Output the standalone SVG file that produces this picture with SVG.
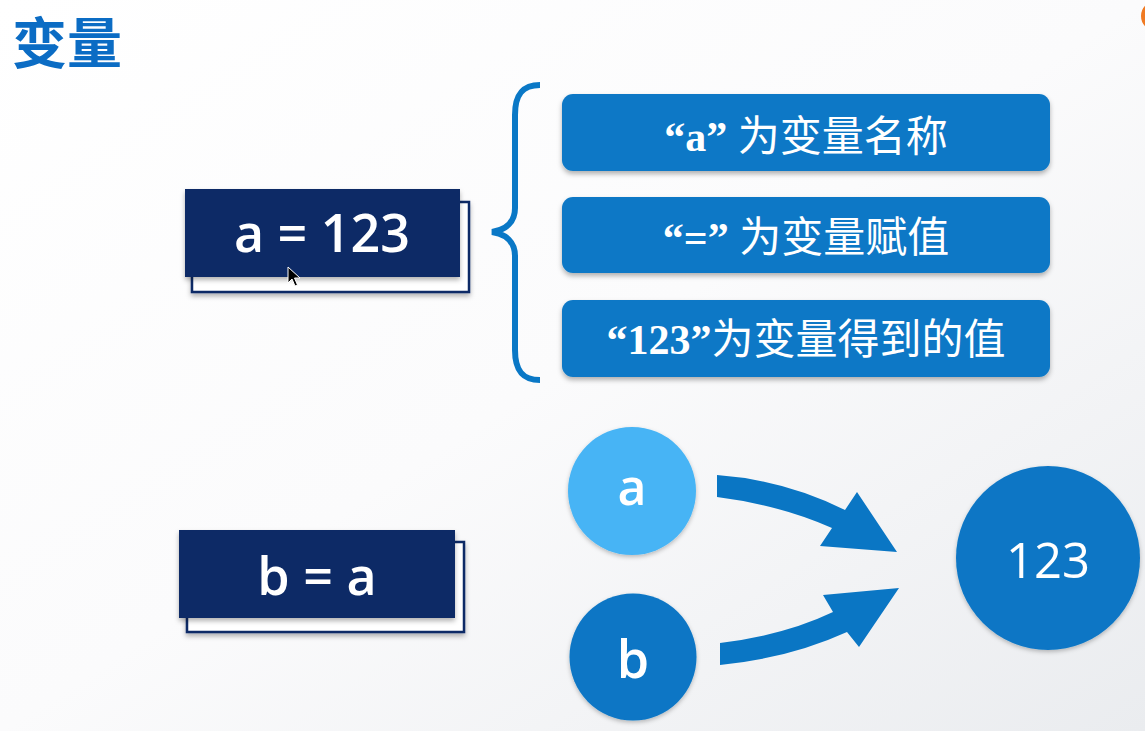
<svg xmlns="http://www.w3.org/2000/svg" width="1145" height="731" viewBox="0 0 1145 731">
<defs>
<linearGradient id="bg" x1="0" y1="0" x2="1" y2="1">
<stop offset="0" stop-color="#ffffff"/>
<stop offset="0.5" stop-color="#fbfbfc"/>
<stop offset="1" stop-color="#eaecef"/>
</linearGradient>
<filter id="sh" x="-10%" y="-10%" width="120%" height="130%">
<feDropShadow dx="0" dy="3" stdDeviation="2.5" flood-color="#000" flood-opacity="0.3"/>
</filter>
<filter id="shc" x="-15%" y="-15%" width="130%" height="135%">
<feDropShadow dx="0" dy="2" stdDeviation="2" flood-color="#000" flood-opacity="0.25"/>
</filter>
<style>
.navy{fill:#0a2966;}
.back{fill:#ffffff;stroke:#0a2966;stroke-width:2.5;}
.code{font-family:"Open Sans","Noto Sans",sans-serif;font-size:52px;font-weight:600;fill:#ffffff;text-anchor:middle;}
.blue{fill:#0a78c6;}
.lbl{font-family:"Noto Sans CJK SC","Noto Sans",sans-serif;font-size:42px;fill:#ffffff;text-anchor:middle;}
.q{font-family:"Liberation Serif","Noto Sans CJK SC",serif;font-weight:bold;}
.circ{font-family:"Open Sans","Noto Sans",sans-serif;fill:#ffffff;text-anchor:middle;}
.arrow{fill:#0a76c4;}
</style>
</defs>
<rect x="0" y="0" width="1145" height="731" fill="url(#bg)"/>
<circle cx="1156" cy="16" r="13" fill="none" stroke="#f07a22" stroke-width="4"/>

<text x="12" y="63" font-family="Noto Sans CJK SC, sans-serif" font-size="55" font-weight="bold" fill="#0b6cc4">变量</text>

<g id="node-a-eq">
<rect class="back" x="192" y="202" width="277" height="90" filter="url(#sh)"/>
<rect class="navy" x="185" y="189" width="275" height="88" filter="url(#sh)"/>
<text class="code" x="322" y="252">a = 123</text>
<path d="M288 267 L288 283 L292 279 L295 286 L297.5 285 L294.5 278 L300 278 Z" fill="#000" stroke="#fff" stroke-width="1"/>
</g>

<g id="node-b-eq">
<rect class="back" x="187" y="542" width="277" height="90" filter="url(#sh)"/>
<rect class="navy" x="179" y="530" width="276" height="88" filter="url(#sh)"/>
<text class="code" x="317" y="595">b = a</text>
</g>

<g id="brace">
<path d="M540 85 C522 85 515 95 515 115 L515 208 C515 222 506 230 492 232 C506 234 515 242 515 256 L515 350 C515 370 522 380 540 380" fill="none" stroke="#0a78c6" stroke-width="6" stroke-linecap="butt"/>
</g>

<g id="node-name">
<rect class="blue" x="562" y="94" width="488" height="77" rx="11" filter="url(#sh)"/>
<text class="lbl" x="806" y="151"><tspan class="q">“a” </tspan>为变量名称</text>
</g>
<g id="node-assign">
<rect class="blue" x="562" y="197" width="488" height="76" rx="11" filter="url(#sh)"/>
<text class="lbl" x="806" y="252"><tspan class="q">“=” </tspan>为变量赋值</text>
</g>
<g id="node-value">
<rect class="blue" x="562" y="300" width="488" height="77" rx="11" filter="url(#sh)"/>
<text class="lbl" x="806" y="354"><tspan class="q">“123”</tspan>为变量得到的值</text>
</g>

<g id="circle-a">
<circle cx="632" cy="491" r="64" fill="#47b4f5" filter="url(#shc)"/>
<text class="circ" x="632" y="505" font-size="50" font-weight="600">a</text>
</g>
<g id="circle-b">
<circle cx="633" cy="657" r="63.5" fill="#0a76c5" filter="url(#shc)"/>
<text class="circ" x="633" y="678" font-size="52" font-weight="600">b</text>
</g>
<g id="circle-123">
<circle cx="1048" cy="558" r="92" fill="#0a76c5" filter="url(#shc)"/>
<text class="circ" x="1048" y="578" font-size="49">123</text>
</g>

<g id="connectors">
<path class="arrow" d="M717 475 Q785 480 845 510 L857 492 L897 552 L820 546 L832 528 Q780 505 717 497 Z"/>
<path class="arrow" d="M720 643 Q785 635 833 612 L823 595 L899 588 L859 647 L847 632 Q790 658 720 665 Z"/>
</g>
</svg>
